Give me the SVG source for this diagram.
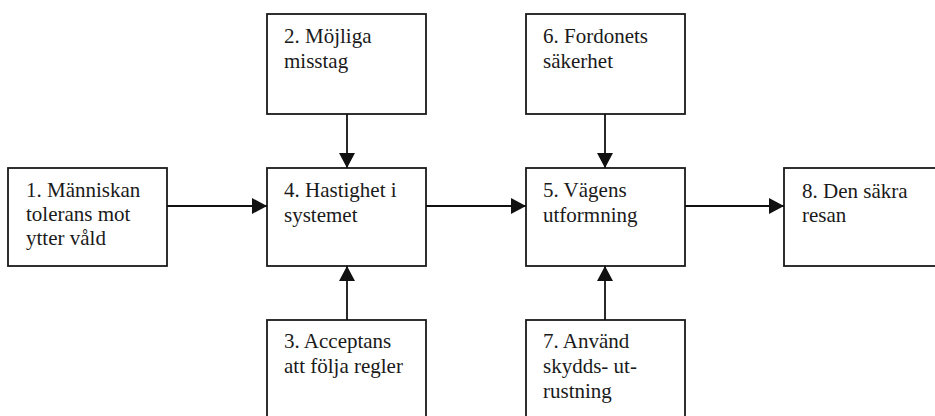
<svg xmlns="http://www.w3.org/2000/svg" width="935" height="416" viewBox="0 0 935 416">
  <style>
    .box { fill: #ffffff; stroke: #1a1a1a; stroke-width: 1.8; }
    .lbl { font-family: "Liberation Serif", "Times New Roman", serif; font-size: 21px; fill: #1a1a1a; }
    .edge { stroke: #111111; stroke-width: 1.8; fill: none; marker-end: url(#arrow); }
  </style>
  <defs>
    <marker id="arrow" markerUnits="userSpaceOnUse" markerWidth="16" markerHeight="18" refX="15" refY="8" orient="auto">
      <path d="M0,0 L15,8 L0,16 z" fill="#111111"/>
    </marker>
  </defs>
  <rect width="935" height="416" fill="#ffffff"/>

  <g id="node1">
    <rect class="box" x="8" y="168" width="159" height="98"/>
    <text class="lbl" x="26" y="197">1. Människan</text>
    <text class="lbl" x="26" y="221">tolerans mot</text>
    <text class="lbl" x="26" y="245">ytter våld</text>
  </g>
  <g id="node2">
    <rect class="box" x="267" y="14" width="159" height="100"/>
    <text class="lbl" x="284" y="43">2. Möjliga</text>
    <text class="lbl" x="284" y="68">misstag</text>
  </g>
  <g id="node3">
    <rect class="box" x="267" y="320" width="159" height="100"/>
    <text class="lbl" x="284" y="348">3. Acceptans</text>
    <text class="lbl" x="284" y="373">att följa regler</text>
  </g>
  <g id="node4">
    <rect class="box" x="267" y="168" width="159" height="98"/>
    <text class="lbl" x="284" y="197">4. Hastighet i</text>
    <text class="lbl" x="284" y="222">systemet</text>
  </g>
  <g id="node5">
    <rect class="box" x="526" y="168" width="159" height="98"/>
    <text class="lbl" x="543" y="197">5. Vägens</text>
    <text class="lbl" x="543" y="222">utformning</text>
  </g>
  <g id="node6">
    <rect class="box" x="526" y="14" width="159" height="100"/>
    <text class="lbl" x="543" y="43">6. Fordonets</text>
    <text class="lbl" x="543" y="68">säkerhet</text>
  </g>
  <g id="node7">
    <rect class="box" x="526" y="320" width="159" height="100"/>
    <text class="lbl" x="543" y="348">7. Använd</text>
    <text class="lbl" x="543" y="373">skydds- ut-</text>
    <text class="lbl" x="543" y="398">rustning</text>
  </g>
  <g id="node8">
    <rect class="box" x="784" y="168" width="170" height="98"/>
    <text class="lbl" x="802" y="198">8. Den säkra</text>
    <text class="lbl" x="802" y="222">resan</text>
  </g>

  <g id="connectors">
    <line class="edge" x1="167" y1="206" x2="267" y2="206"/>
    <line class="edge" x1="426" y1="206" x2="526" y2="206"/>
    <line class="edge" x1="685" y1="206" x2="784" y2="206"/>
    <line class="edge" x1="347" y1="114" x2="347" y2="168"/>
    <line class="edge" x1="347" y1="320" x2="347" y2="266"/>
    <line class="edge" x1="605" y1="114" x2="605" y2="168"/>
    <line class="edge" x1="605" y1="320" x2="605" y2="266"/>
  </g>
</svg>
